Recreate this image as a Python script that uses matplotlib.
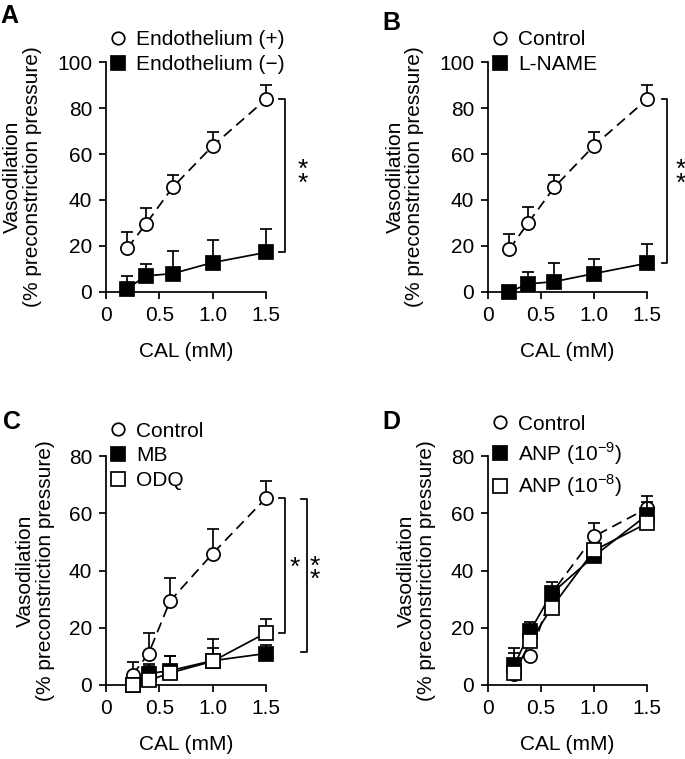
import matplotlib
matplotlib.use("Agg")
import matplotlib.pyplot as plt
from matplotlib.lines import Line2D

plt.rcParams["font.family"] = ["Liberation Sans", "DejaVu Sans"]
plt.rcParams["font.size"] = 15
plt.rcParams["mathtext.fontset"] = "custom"
plt.rcParams["mathtext.rm"] = "Liberation Sans"

# ---- data ----
cal_ab = [0.2, 0.375, 0.625, 1.0, 1.5]
endo_pos = [19, 29.6, 45.5, 63.5, 83.8]
endo_pos_err = [7, 7, 5.5, 6, 6]
endo_neg = [1.5, 7, 8, 12.8, 17.2]
endo_neg_err = [5.5, 5, 10, 10, 10]

ctrl_b = [18.5, 29.8, 45.5, 63.6, 83.8]
ctrl_b_err = [6.7, 7, 5.5, 6, 6]
lname = [0, 3.5, 4.5, 8, 12.5]
lname_err = [0, 5, 8, 6.5, 8.5]

cal_cd = [0.25, 0.4, 0.6, 1.0, 1.5]
ctrl_c = [3.6, 11, 29.3, 45.9, 65.3]
ctrl_c_err = [4.3, 7, 8, 8.6, 6]
mb = [0, 4, 5, 8.5, 11]
mb_err = [0, 3.5, 5, 4.5, 3]
odq = [0, 1.6, 4.2, 8.3, 18.2]
odq_err = [0, 5, 5.8, 7.7, 4.8]

ctrl_d = [4, 10.2, 32, 51.9, 61.7]
ctrl_d_err = [0, 0, 0, 4.6, 4.3]
anp9 = [7, 19, 32, 45, 59.4]
anp9_err = [6, 3, 4, 0, 4.5]
anp8 = [4.2, 15.2, 27, 47, 56.5]
anp8_err = [7, 0, 0, 2.5, 0]

LW = 1.25
STYLE = {
    "open_o": dict(marker="o", mfc="white", ms=9.5, ls="--"),
    "fill_s": dict(marker="s", mfc="black", ms=10.5, ls="-"),
    "open_s": dict(marker="s", mfc="white", ms=10.5, ls="-"),
}


def series(ax, x, y, err, kind, z):
    st = STYLE[kind]
    ax.errorbar(x, y, yerr=[[0] * len(err), err], fmt="none", ecolor="black",
                elinewidth=LW, capsize=4, capthick=LW, clip_on=False, zorder=z)
    ax.plot(x, y, color="black", lw=LW, ls=st["ls"],
            dashes=(6, 3.5) if st["ls"] == "--" else (None, None),
            marker=st["marker"], ms=st["ms"], mfc=st["mfc"], mec="black", mew=LW,
            clip_on=False, zorder=z + 0.5)


def setup(ax, ymax, label_x):
    ax.set_xlim(0, 1.5)
    ax.set_ylim(0, ymax)
    ax.set_xticks([0, 0.5, 1.0, 1.5])
    ax.set_xticklabels(["0", "0.5", "1.0", "1.5"])
    ax.set_yticks(range(0, ymax + 1, 20))
    for s in ("top", "right"):
        ax.spines[s].set_visible(False)
    for s in ("left", "bottom"):
        ax.spines[s].set_linewidth(LW)
    ax.tick_params(direction="out", length=5, width=LW, pad=5)
    ax.set_xlabel("CAL (mM)", labelpad=12)
    ax.set_ylabel("Vasodilation\n(% preconstriction pressure)", linespacing=1.05)
    ax.yaxis.set_label_coords(label_x, 0.5)


def legend(ax, kinds, labels, anchor, spacing):
    handles = [Line2D([], [], ls="none", marker=STYLE[k]["marker"], ms=STYLE[k]["ms"] - 0.5,
                      mfc=STYLE[k]["mfc"], mec="black", mew=LW) for k in kinds]
    ax.legend(handles, labels, loc="upper left", bbox_to_anchor=anchor, frameon=False,
              handlelength=0.7, handletextpad=0.5, labelspacing=spacing, borderpad=0,
              borderaxespad=0, fontsize=15)


def bracket(ax, x, y0, y1, tick):
    ax.plot([x - tick, x, x, x - tick], [y0, y0, y1, y1], color="black", lw=LW, clip_on=False)


def stars(ax, x, y, txt):
    ax.text(x, y, txt, ha="center", va="center", fontsize=19, linespacing=0.45)


fig = plt.figure(figsize=(6.85, 7.59), dpi=100)
axA = fig.add_axes([0.1547, 0.6153, 0.2336, 0.303])
axB = fig.add_axes([0.7124, 0.6153, 0.2321, 0.303])
axC = fig.add_axes([0.1547, 0.0975, 0.2336, 0.3017])
axD = fig.add_axes([0.7124, 0.0975, 0.2321, 0.3017])

# A
series(axA, cal_ab, endo_pos, endo_pos_err, "open_o", 3)
series(axA, cal_ab, endo_neg, endo_neg_err, "fill_s", 4)
setup(axA, 100, -0.4)
legend(axA, ["open_o", "fill_s"], ["Endothelium (+)", "Endothelium (\u2212)"], (0.03, 1.14), 0.3)
bracket(axA, 1.68, endo_pos[-1], endo_neg[-1], 0.06)
stars(axA, 1.84, 50, "*\n*")

# B
series(axB, cal_ab, ctrl_b, ctrl_b_err, "open_o", 3)
series(axB, cal_ab, lname, lname_err, "fill_s", 4)
setup(axB, 100, -0.4)
legend(axB, ["open_o", "fill_s"], ["Control", "L-NAME"], (0.03, 1.14), 0.3)
bracket(axB, 1.69, ctrl_b[-1], lname[-1], 0.05)
stars(axB, 1.82, 50, "*\n*")

# C
series(axC, cal_cd, ctrl_c, ctrl_c_err, "open_o", 3)
series(axC, cal_cd, mb, mb_err, "fill_s", 4)
series(axC, cal_cd, odq, odq_err, "open_s", 5)
setup(axC, 80, -0.32)
legend(axC, ["open_o", "fill_s", "open_s"], ["Control", "MB", "ODQ"], (0.03, 1.15), 0.28)
bracket(axC, 1.68, ctrl_c[-1], odq[-1], 0.06)
bracket(axC, 1.88, 65.1, 11.7, 0.05)
stars(axC, 1.77, 41, "*")
stars(axC, 1.96, 39, "*\n*")

# D
series(axD, cal_cd, ctrl_d, ctrl_d_err, "open_o", 3)
series(axD, cal_cd, anp9, anp9_err, "fill_s", 4)
series(axD, cal_cd, anp8, anp8_err, "open_s", 5)
setup(axD, 80, -0.33)
legend(axD, ["open_o", "fill_s", "open_s"],
       ["Control", r"ANP (10$^{-9}$)", r"ANP (10$^{-8}$)"], (0.03, 1.18), 0.3)

fig.text(0.0, 0.995, "A", fontsize=18, fontweight="bold", va="top")
fig.text(0.558, 0.985, "B", fontsize=18, fontweight="bold", va="top")
fig.text(0.004, 0.46, "C", fontsize=18, fontweight="bold", va="top")
fig.text(0.558, 0.46, "D", fontsize=18, fontweight="bold", va="top")

fig.savefig("out.png", dpi=100)
